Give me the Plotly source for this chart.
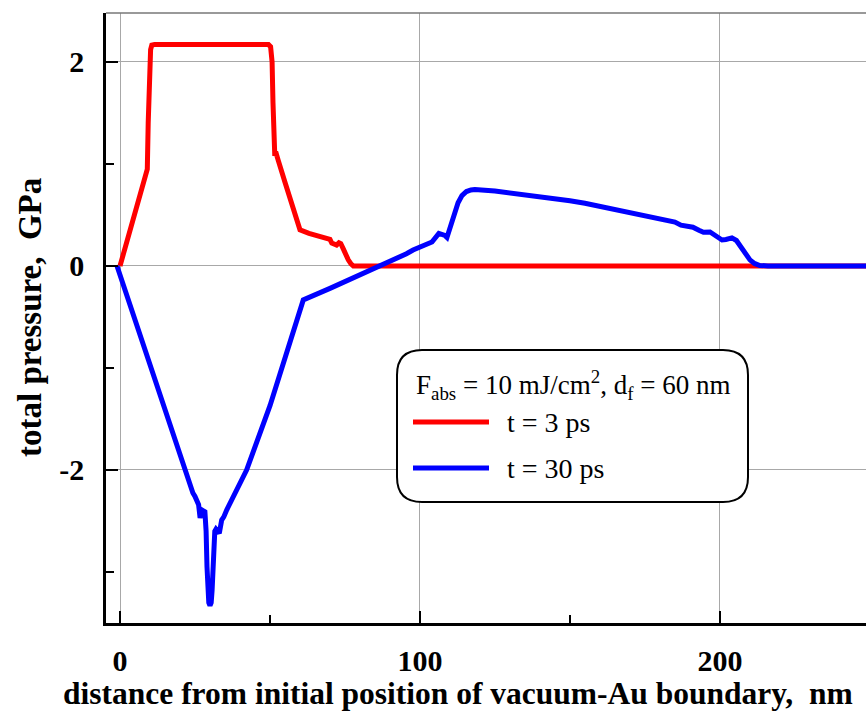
import plotly.graph_objects as go

# ---- data ----
x_red = [0, 2, 4, 6, 8.3, 8.7, 9.1, 9.4, 9.8, 10.2, 10.6, 11.5, 20, 30, 40,
         49.5, 50.2, 50.7, 51.0, 51.3, 51.6, 51.9, 52.3, 52.8, 55, 58, 60,
         63, 66.7, 67.8, 69, 70, 70.6, 71.4, 72.2, 73.0, 73.6, 74.4, 75.2,
         76.1, 77.0, 77.8, 80, 100, 150, 200, 250]
y_red = [0, 0.21, 0.42, 0.63, 0.875, 0.91, 0.95, 1.4, 1.9, 2.12, 2.165, 2.17, 2.17, 2.17, 2.17,
         2.17, 2.15, 2.0, 1.6, 1.15, 1.08, 1.12, 1.05, 1.03, 0.82, 0.54, 0.355,
         0.32, 0.287, 0.27, 0.265, 0.26, 0.225, 0.22, 0.205, 0.228, 0.22, 0.17, 0.11,
         0.06, 0.02, 0.0, 0, 0, 0, 0, 0]

x_blue = [-1, 5, 10, 15, 19, 21.7, 22.5, 23.2, 24.3, 25.0, 25.6, 26.2, 26.7, 27.2, 28.3,
          28.7, 29.0, 29.3, 29.6, 30.0, 30.4, 30.7, 31.0, 31.3, 31.6, 32.0, 33.1, 33.9, 34.6, 35.6,
          42.2, 50, 61.1, 70, 80, 90, 93.3, 95.5, 97.7, 100, 102.3, 104, 106.3, 108.3, 109, 110.7,
          112.7, 114, 115.5, 117, 118.3, 125, 131, 135, 140, 145, 150, 155, 160, 165, 170, 175,
          178, 180, 183, 185, 187, 189, 191, 193, 194.5, 196.7, 198, 200.7, 202, 204, 205.5,
          206.7, 208, 210, 211.5, 213.3, 216, 220, 250]
y_blue = [0, -0.53, -0.97, -1.41, -1.76, -2.0, -2.05, -2.14, -2.225, -2.26, -2.32, -2.34, -2.47, -2.39, -2.41,
          -2.6, -2.95, -3.18, -3.3, -3.33, -3.3, -3.18, -2.95, -2.7, -2.6, -2.58, -2.62, -2.49, -2.46, -2.39,
          -2.0, -1.37, -0.333, -0.22, -0.09, 0.042, 0.088, 0.12, 0.157, 0.186, 0.225, 0.235, 0.32, 0.30, 0.28, 0.42,
          0.62, 0.69, 0.73, 0.745, 0.75, 0.735, 0.715, 0.70, 0.685, 0.66, 0.64, 0.615, 0.585, 0.555, 0.525, 0.49,
          0.47, 0.465, 0.44, 0.43, 0.40, 0.39, 0.38, 0.35, 0.33, 0.333, 0.31, 0.255, 0.26, 0.275, 0.25,
          0.20, 0.13, 0.06, 0.025, 0.005, 0, 0, 0]

series_names = ["t = 3 ps", "t = 30 ps"]
series_colors = ["#ff0000", "#0000ff"]
legend_header = "F<sub>abs</sub> = 10 mJ/cm<sup>2</sup>, d<sub>f</sub> = 60 nm"
x_title = "distance from initial position of vacuum-Au boundary,  nm"
y_title = "total pressure,  GPa"
x_ticks = [0, 100, 200]
x_minor = [50, 150, 250]
y_ticks = [-2, 0, 2]
y_ticktext = ["-2", "0", "2"]
y_minor = [-3, -1, 1]

SERIF = "Liberation Serif, Times New Roman, serif"

fig = go.Figure()
fig.add_trace(go.Scatter(x=x_red, y=y_red, mode="lines", name=series_names[0],
                         line=dict(color=series_colors[0], width=5), showlegend=False))
fig.add_trace(go.Scatter(x=x_blue, y=y_blue, mode="lines", name=series_names[1],
                         line=dict(color=series_colors[1], width=5), showlegend=False))

W, H = 866, 711
L, R, T, B = 106, 0, 13, 88
pw, ph = W - L - R, H - T - B


def px(xp):
    return (xp - L) / pw


def py(yp):
    return (H - B - yp) / ph


fig.update_layout(
    width=W, height=H,
    margin=dict(l=L, r=R, t=T, b=B),
    paper_bgcolor="white", plot_bgcolor="white",
    font=dict(family=SERIF, color="black"),
    showlegend=False,
)
fig.update_xaxes(
    range=[-4.67, 248.7], tickvals=x_ticks, ticks="inside", ticklen=12, tickwidth=2,
    tickcolor="black", showline=True, linecolor="black", linewidth=2.5,
    showgrid=True, gridcolor="#a8a8a8", gridwidth=1, zeroline=False,
    tickfont=dict(family=SERIF, size=30, weight="bold"), ticklabelstandoff=9,
    minor=dict(tickvals=x_minor, ticks="inside", ticklen=8, tickwidth=2, tickcolor="black", showgrid=False),
)
fig.update_yaxes(
    range=[-3.5, 2.48], tickvals=y_ticks, ticktext=y_ticktext, ticks="inside", ticklen=12, tickwidth=2,
    tickcolor="black", showline=True, linecolor="black", linewidth=2.5,
    showgrid=True, gridcolor="#a8a8a8", gridwidth=1, zeroline=False,
    tickfont=dict(family=SERIF, size=30, weight="bold"), ticklabelstandoff=13,
    minor=dict(tickvals=y_minor, ticks="inside", ticklen=8, tickwidth=2, tickcolor="black", showgrid=False),
)

# top border
fig.add_shape(type="line", xref="paper", yref="paper", x0=0, x1=1, y0=1, y1=1,
              line=dict(color="#777777", width=1.5))

# legend box (rounded)
bx0, bx1, by0, by1 = px(397), px(748), py(502), py(350)
rx, ry = 25 / pw, 25 / ph
path = (f"M{bx0+rx},{by1} L{bx1-rx},{by1} Q{bx1},{by1} {bx1},{by1-ry} "
        f"L{bx1},{by0+ry} Q{bx1},{by0} {bx1-rx},{by0} L{bx0+rx},{by0} "
        f"Q{bx0},{by0} {bx0},{by0+ry} L{bx0},{by1-ry} Q{bx0},{by1} {bx0+rx},{by1} Z")
fig.add_shape(type="path", xref="paper", yref="paper", path=path,
              line=dict(color="black", width=2), fillcolor="white")

for i, yy in enumerate([422, 468]):
    fig.add_shape(type="line", xref="paper", yref="paper", x0=px(413), x1=px(489), y0=py(yy), y1=py(yy),
                  line=dict(color=series_colors[i], width=5))
    fig.add_annotation(xref="paper", yref="paper", x=px(505), y=py(yy), text=series_names[i],
                       showarrow=False, xanchor="left", yanchor="middle",
                       font=dict(family=SERIF, size=28, color="black"))

fig.add_annotation(xref="paper", yref="paper", x=px(573), y=py(385), text=legend_header,
                   showarrow=False, xanchor="center", yanchor="middle",
                   font=dict(family=SERIF, size=27, color="black"))

# axis titles
fig.add_annotation(xref="paper", yref="paper", x=px(458), y=py(694), text=f"<b>{x_title}</b>",
                   showarrow=False, xanchor="center", yanchor="middle",
                   font=dict(family=SERIF, size=31.5, color="black"))
fig.add_annotation(xref="paper", yref="paper", x=px(30), y=py(318), text=f"<b>{y_title}</b>",
                   showarrow=False, xanchor="center", yanchor="middle", textangle=-90,
                   font=dict(family=SERIF, size=33, color="black"))

fig.write_html("out.html")
